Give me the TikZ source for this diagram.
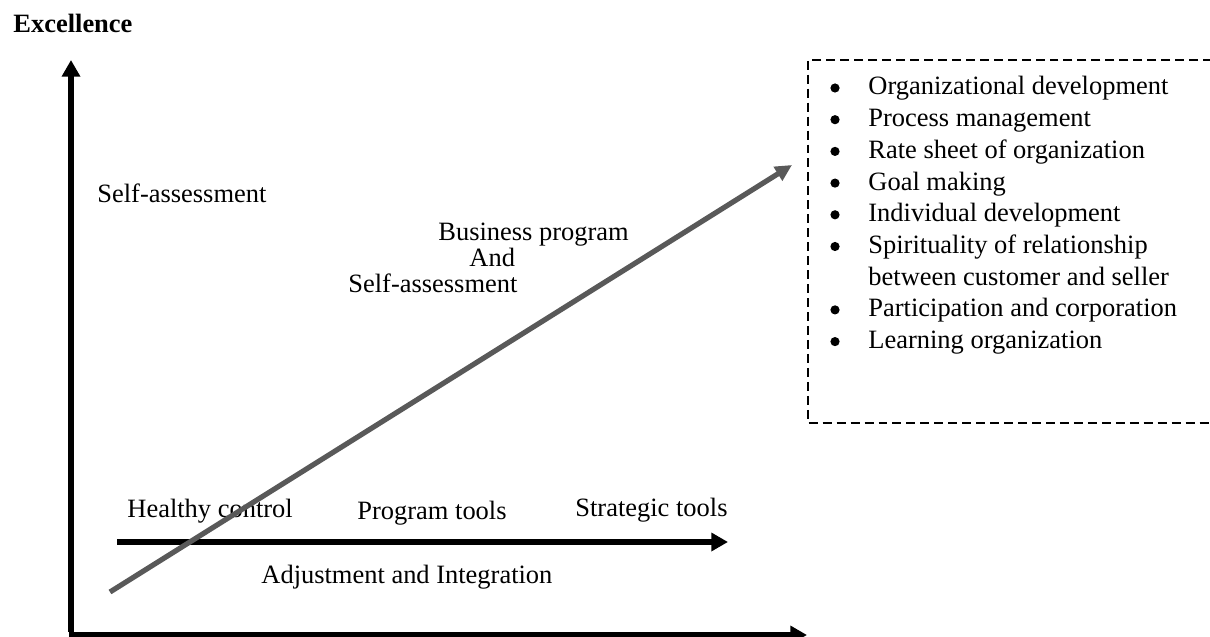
\documentclass[tikz,border=0pt]{standalone}
\usepackage{fontspec}
\setmainfont{Liberation Serif}
\usetikzlibrary{arrows.meta}

\definecolor{trendgray}{RGB}{89,89,89}

\begin{document}
\begin{tikzpicture}[x=0.48pt, y=-0.48pt,
		axis/.style={line width=2.7pt, -{Triangle[length=8pt, width=8.5pt]}},
		trend/.style={trendgray, line width=2.5pt, -{Triangle[length=8pt, width=7.5pt]}},
		lbl/.style={inner sep=0pt, anchor=base west, font=\fontsize{12.7}{15}\selectfont},
		dashbox/.style={line width=1.4pt, dash pattern=on 4.3pt off 2.4pt}]
		\useasboundingbox (0,0) rectangle (1210,637);

		% axes
		\coordinate (origin) at (71, 635);
		\coordinate (ytip) at (71, 60);
		\coordinate (xtip) at (807, 635);
		\draw[axis] (71, 632) -- (ytip);
		\draw[axis] (69, 635) -- (xtip);
		\node[lbl, font=\fontsize{12.7}{15}\selectfont\bfseries] (excellence) at (13, 33) {Excellence};

		% inner scale
		\coordinate (scalestart) at (117, 542);
		\coordinate (scaleend) at (728, 542);
		\draw[axis] (scalestart) -- (scaleend);
		\node[lbl] (healthy) at (127, 517) {Healthy control};
		\node[lbl] (program) at (357, 519) {Program tools};
		\node[lbl] (strategic) at (575, 516) {Strategic tools};
		\node[lbl] (adjust) at (261, 583) {Adjustment and Integration};

		\node[lbl] (selfa) at (97, 203) {Self-assessment};
		\node[lbl] (business) at (438, 241) {Business program};
		\node[lbl] (and) at (469, 267) {And};
		\node[lbl] (selfb) at (348, 293) {Self-assessment};

		% trend arrow
		\coordinate (trendstart) at (110, 592);
		\coordinate (trendtip) at (792, 165);
		\draw[trend] (trendstart) -- (trendtip);

		% list box
		\draw[dashbox] (1212, 60) -- (808, 60) -- (808, 423) -- (1212, 423);
		\foreach \n/\txt in {0/Organizational development, 1/Process management,
				2/Rate sheet of organization, 3/Goal making, 4/Individual development,
				5/Spirituality of relationship, 7/Participation and corporation,
				8/Learning organization}
			{
				\node[lbl] (item\n) at (868, 95+31.7*\n) {\txt};
				\fill (835, 88+31.7*\n) circle (4.6);
			}
		\node[lbl] (item6) at (868, 95+31.7*6) {between customer and seller};

	\end{tikzpicture}
\end{document}
